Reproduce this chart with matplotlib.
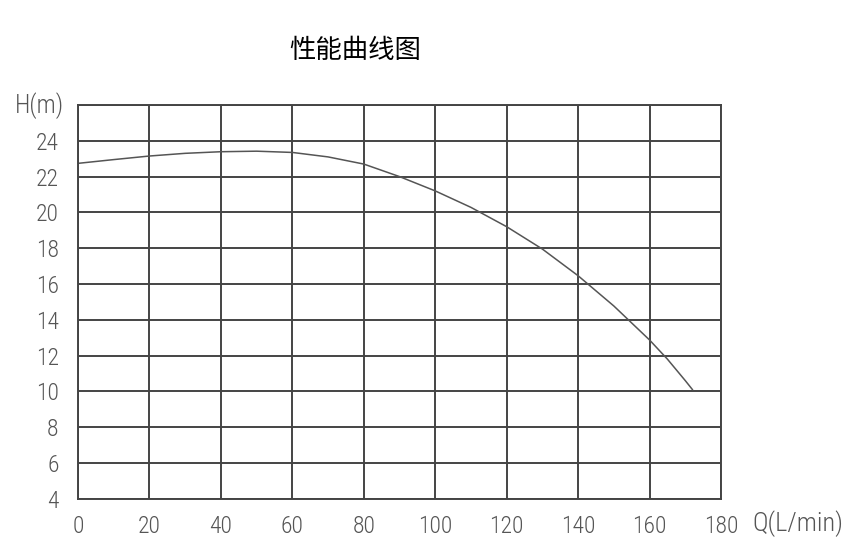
import matplotlib.pyplot as plt
from matplotlib import font_manager

# Pump performance curve
flow = [0, 10, 20, 30, 40, 50, 60, 70, 80, 90, 100, 110, 120, 130, 140, 150, 160, 165, 170, 172]
head = [22.74, 22.95, 23.15, 23.3, 23.39, 23.42, 23.35, 23.1, 22.7, 22.0, 21.2,
        20.28, 19.2, 17.95, 16.46, 14.77, 12.87, 11.8, 10.6, 10.1]

x_ticks = list(range(0, 181, 20))
y_ticks = list(range(4, 27, 2))
y_labels = [str(v) if v <= 24 else '' for v in y_ticks]

# narrow CAD-like font if one is around
names = {f.name for f in font_manager.fontManager.ttflist}
tick_font = 'DejaVu Sans'
for cand in ['Roboto Condensed', 'Liberation Sans Narrow', 'Open Sans Condensed']:
    if cand in names:
        tick_font = cand
        break

fig = plt.figure(figsize=(8.65, 5.53), dpi=100)
ax = fig.add_axes([0.0902, 0.0982, 0.8335 - 0.0902, 0.8101 - 0.0982])

ax.plot(flow, head, color='#555555', lw=1.1)

ax.set_xlim(0, 180)
ax.set_ylim(4, 26)
ax.set_xticks(x_ticks)
ax.set_yticks(y_ticks)
ax.set_yticklabels(y_labels)
ax.grid(True, color='#444444', lw=1.4)
for s in ax.spines.values():
    s.set_color('#444444')
    s.set_linewidth(1.4)
ax.tick_params(length=0, colors='#555555', labelsize=17)
ax.tick_params(axis='y', pad=14)
ax.tick_params(axis='x', pad=12)
for lab in ax.get_xticklabels() + ax.get_yticklabels():
    lab.set_family(tick_font)
    lab.set_fontweight('light')

fig.text(15 / 865, 1 - 106 / 553, 'H(m)', family=tick_font, fontweight='light',
         fontsize=18, color='#555555', ha='left', va='center')
fig.text(752 / 865, 1 - 524 / 553, 'Q(L/min)', family=tick_font, fontweight='light',
         fontsize=19, color='#555555', ha='left', va='center')
fig.text(355 / 865, 1 - 50 / 553, '性能曲线图', family=['Noto Sans CJK SC', 'DejaVu Sans'],
         fontsize=19, fontweight='medium', color='black', ha='center', va='center')

fig.savefig('out.png', dpi=100, facecolor='white')
